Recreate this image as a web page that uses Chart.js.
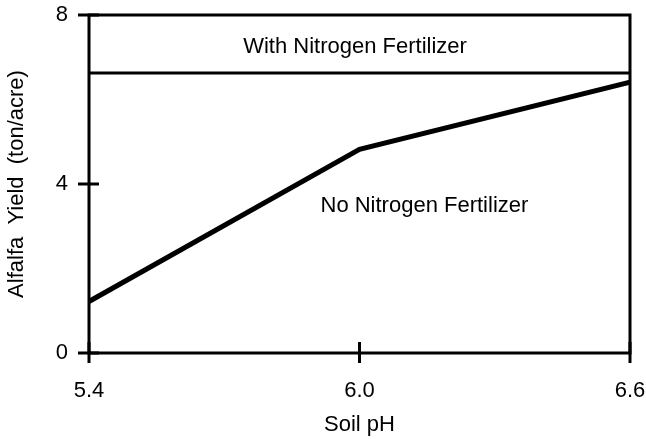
<!DOCTYPE html>
<html>
<head>
<meta charset="utf-8">
<script src="https://cdn.jsdelivr.net/npm/chart.js@4/dist/chart.umd.min.js"></script>
<style>
  html, body { margin: 0; padding: 0; background: #fff; }
  #wrap { width: 646px; height: 439px; }
</style>
</head>
<body>
<div id="wrap"><canvas id="alfalfa"></canvas></div>
<script>
// Data

const soilPH = [5.4, 6.0, 6.6],
      withNitrogen = [6.63, 6.63, 6.63],
      noNitrogen = [1.22, 4.82, 6.41],
      yTicks = [0, 4, 8],
      xTicks = [5.4, 6.0, 6.6];

// Text labels inside the plot (data coordinates)
const notes = [
    { text: 'With Nitrogen Fertilizer', x: 5.99, y: 7.09 },
    { text: 'No Nitrogen Fertilizer', x: 6.144, y: 3.33 }
];

const fontSize = 22;

Chart.defaults.font.family = '"Liberation Sans", Arial, sans-serif';
Chart.defaults.color = '#000';

const toPoints = (ys) => soilPH.map((x, i) => ({ x: x, y: ys[i] }));

// Functions

const framePlugin = {
    id: 'frame',
    afterDraw(chart) {
        const ctx = chart.ctx,
              area = chart.chartArea,
              xs = chart.scales.x,
              ys = chart.scales.y;

        ctx.save();
        ctx.strokeStyle = '#000';
        ctx.lineWidth = 3;
        ctx.strokeRect(area.left, area.top, area.right - area.left, area.bottom - area.top);

        // tick crosses
        ctx.beginPath();
        xTicks.forEach(v => {
            const px = xs.getPixelForValue(v);
            ctx.moveTo(px, area.bottom - 11);
            ctx.lineTo(px, area.bottom + 10);
        });
        yTicks.forEach(v => {
            const py = ys.getPixelForValue(v);
            ctx.moveTo(area.left - 11, py);
            ctx.lineTo(area.left + 10, py);
        });
        ctx.stroke();

        ctx.fillStyle = '#000';
        ctx.font = fontSize + 'px "Liberation Sans", Arial, sans-serif';
        ctx.textAlign = 'center';
        ctx.textBaseline = 'alphabetic';
        notes.forEach(n => {
            ctx.fillText(n.text, xs.getPixelForValue(n.x), ys.getPixelForValue(n.y));
        });
        ctx.restore();
    }
};

const chart = new Chart(document.getElementById('alfalfa'), {
    type: 'line',
    data: {
        datasets: [{
            label: 'With Nitrogen Fertilizer',
            data: toPoints(withNitrogen),
            borderColor: '#000',
            borderWidth: 3,
            pointRadius: 0,
            tension: 0
        }, {
            label: 'No Nitrogen Fertilizer',
            data: toPoints(noNitrogen),
            borderColor: '#000',
            borderWidth: 5,
            pointRadius: 0,
            tension: 0
        }]
    },
    options: {
        responsive: true,
        maintainAspectRatio: false,
        animation: false,
        layout: { padding: { top: 15, right: 16, left: 0, bottom: 0 } },
        plugins: {
            legend: { display: false },
            tooltip: { enabled: false }
        },
        scales: {
            x: {
                type: 'linear',
                min: 5.4,
                max: 6.6,
                grid: { display: false },
                border: { display: false },
                afterBuildTicks: (s) => { s.ticks = xTicks.map(v => ({ value: v })); },
                afterFit: (s) => {
                    s.height = 86;
                    s.paddingLeft = 0;
                    s.paddingRight = 0;
                },
                ticks: {
                    padding: 17,
                    font: { size: fontSize },
                    callback: (v) => v.toFixed(1)
                },
                title: {
                    display: true,
                    text: 'Soil pH',
                    font: { size: fontSize },
                    padding: { top: 0, bottom: 1 }
                }
            },
            y: {
                min: 0,
                max: 8,
                grid: { display: false },
                border: { display: false },
                afterBuildTicks: (s) => { s.ticks = yTicks.map(v => ({ value: v })); },
                afterFit: (s) => {
                    s.width = 89;
                    s.paddingTop = 0;
                    s.paddingBottom = 0;
                },
                ticks: {
                    padding: 13,
                    font: { size: fontSize }
                },
                title: {
                    display: true,
                    text: 'Alfalfa  Yield  (ton/acre)',
                    font: { size: fontSize },
                    padding: { top: 4, bottom: 0 }
                }
            }
        }
    },
    plugins: [framePlugin]
});
</script>
</body>
</html>
